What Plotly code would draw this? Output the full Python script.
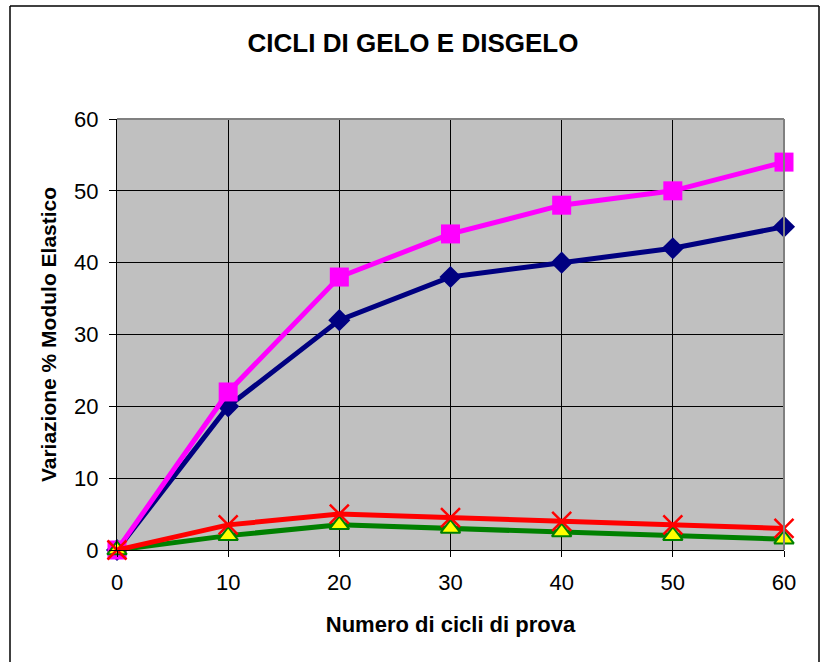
import plotly.graph_objects as go

cicli = [0, 10, 20, 30, 40, 50, 60]
serie_blu = [0, 20, 32, 38, 40, 42, 45]
serie_magenta = [0, 22, 38, 44, 48, 50, 54]
serie_rossa = [0, 3.5, 5, 4.5, 4, 3.5, 3]
serie_verde = [0, 2, 3.5, 3, 2.5, 2, 1.5]
tick_y = [0, 10, 20, 30, 40, 50, 60]

fig = go.Figure()
fig.add_trace(go.Scatter(x=cicli, y=serie_blu, mode="lines+markers",
                         line=dict(color="#000080", width=5),
                         marker=dict(symbol="diamond", size=17, color="#000080"),
                         showlegend=False, cliponaxis=False))
fig.add_trace(go.Scatter(x=cicli, y=serie_magenta, mode="lines+markers",
                         line=dict(color="#FF00FF", width=5),
                         marker=dict(symbol="square", size=19, color="#FF00FF"),
                         showlegend=False, cliponaxis=False))
fig.add_trace(go.Scatter(x=cicli, y=serie_verde, mode="lines+markers",
                         line=dict(color="#008000", width=5),
                         marker=dict(symbol="triangle-up", size=17, color="#FFFF00",
                                     line=dict(color="#008000", width=2)),
                         showlegend=False, cliponaxis=False))
fig.add_trace(go.Scatter(x=cicli, y=serie_rossa, mode="lines+markers",
                         line=dict(color="#FF0000", width=5),
                         marker=dict(symbol="x-thin", size=19, color="#FF0000",
                                     line=dict(color="#FF0000", width=2.5)),
                         showlegend=False, cliponaxis=False))

L, R, T, B = 117, 42, 119, 112
W, H = 826, 662
pw, ph = W - L - R, H - T - B

fig.update_layout(
    width=W, height=H,
    margin=dict(l=L, r=R, t=T, b=B),
    paper_bgcolor="white",
    plot_bgcolor="#C0C0C0",
    font=dict(family="Liberation Sans, Arial, sans-serif", color="black", size=22),
    title=dict(text="<b>CICLI DI GELO E DISGELO</b>", x=413 / W, xanchor="center",
               y=1 - 43 / H, yanchor="middle", font=dict(size=26)),
    xaxis=dict(range=[0, 60], tickvals=cicli, showgrid=True, gridcolor="#000000", gridwidth=1,
               zeroline=False, showline=True, linecolor="#000000", linewidth=1,
               ticks="outside", ticklen=6, tickcolor="#000000", ticklabelstandoff=7,
               tickfont=dict(size=22),
               title=dict(text="<b>Numero di cicli di prova</b>", font=dict(size=22), standoff=22)),
    yaxis=dict(range=[0, 60], tickvals=tick_y, showgrid=True,
               gridcolor="#000000", gridwidth=1,
               zeroline=False, showline=True, linecolor="#000000", linewidth=1,
               ticks="outside", ticklen=7, tickcolor="#000000", ticklabelstandoff=6,
               tickfont=dict(size=22),
               title=dict(text="<b>Variazione % Modulo Elastico</b>", font=dict(size=21), standoff=11)),
    shapes=[
        dict(type="line", xref="paper", yref="paper", x0=0, x1=1, y0=1, y1=1,
             line=dict(color="#808080", width=2), layer="above"),
        dict(type="line", xref="paper", yref="paper", x0=1, x1=1, y0=0, y1=1,
             line=dict(color="#808080", width=2), layer="above"),
        dict(type="line", xref="paper", yref="paper",
             x0=(10 - L) / pw, x1=(10 - L) / pw, y0=-(B + 5) / ph, y1=(H - B - 6) / ph,
             line=dict(color="#000000", width=1.5), layer="below"),
        dict(type="line", xref="paper", yref="paper",
             x0=(819 - L) / pw, x1=(819 - L) / pw, y0=-(B + 5) / ph, y1=(H - B - 6) / ph,
             line=dict(color="#000000", width=1.5), layer="below"),
        dict(type="line", xref="paper", yref="paper",
             x0=(10 - L) / pw, x1=(819 - L) / pw, y0=(H - B - 6) / ph, y1=(H - B - 6) / ph,
             line=dict(color="#000000", width=1.5), layer="below"),
    ],
)

fig.write_html("out.html", config={"displayModeBar": False},
               post_script="document.body.style.margin='0px';document.body.style.padding='0px';")
